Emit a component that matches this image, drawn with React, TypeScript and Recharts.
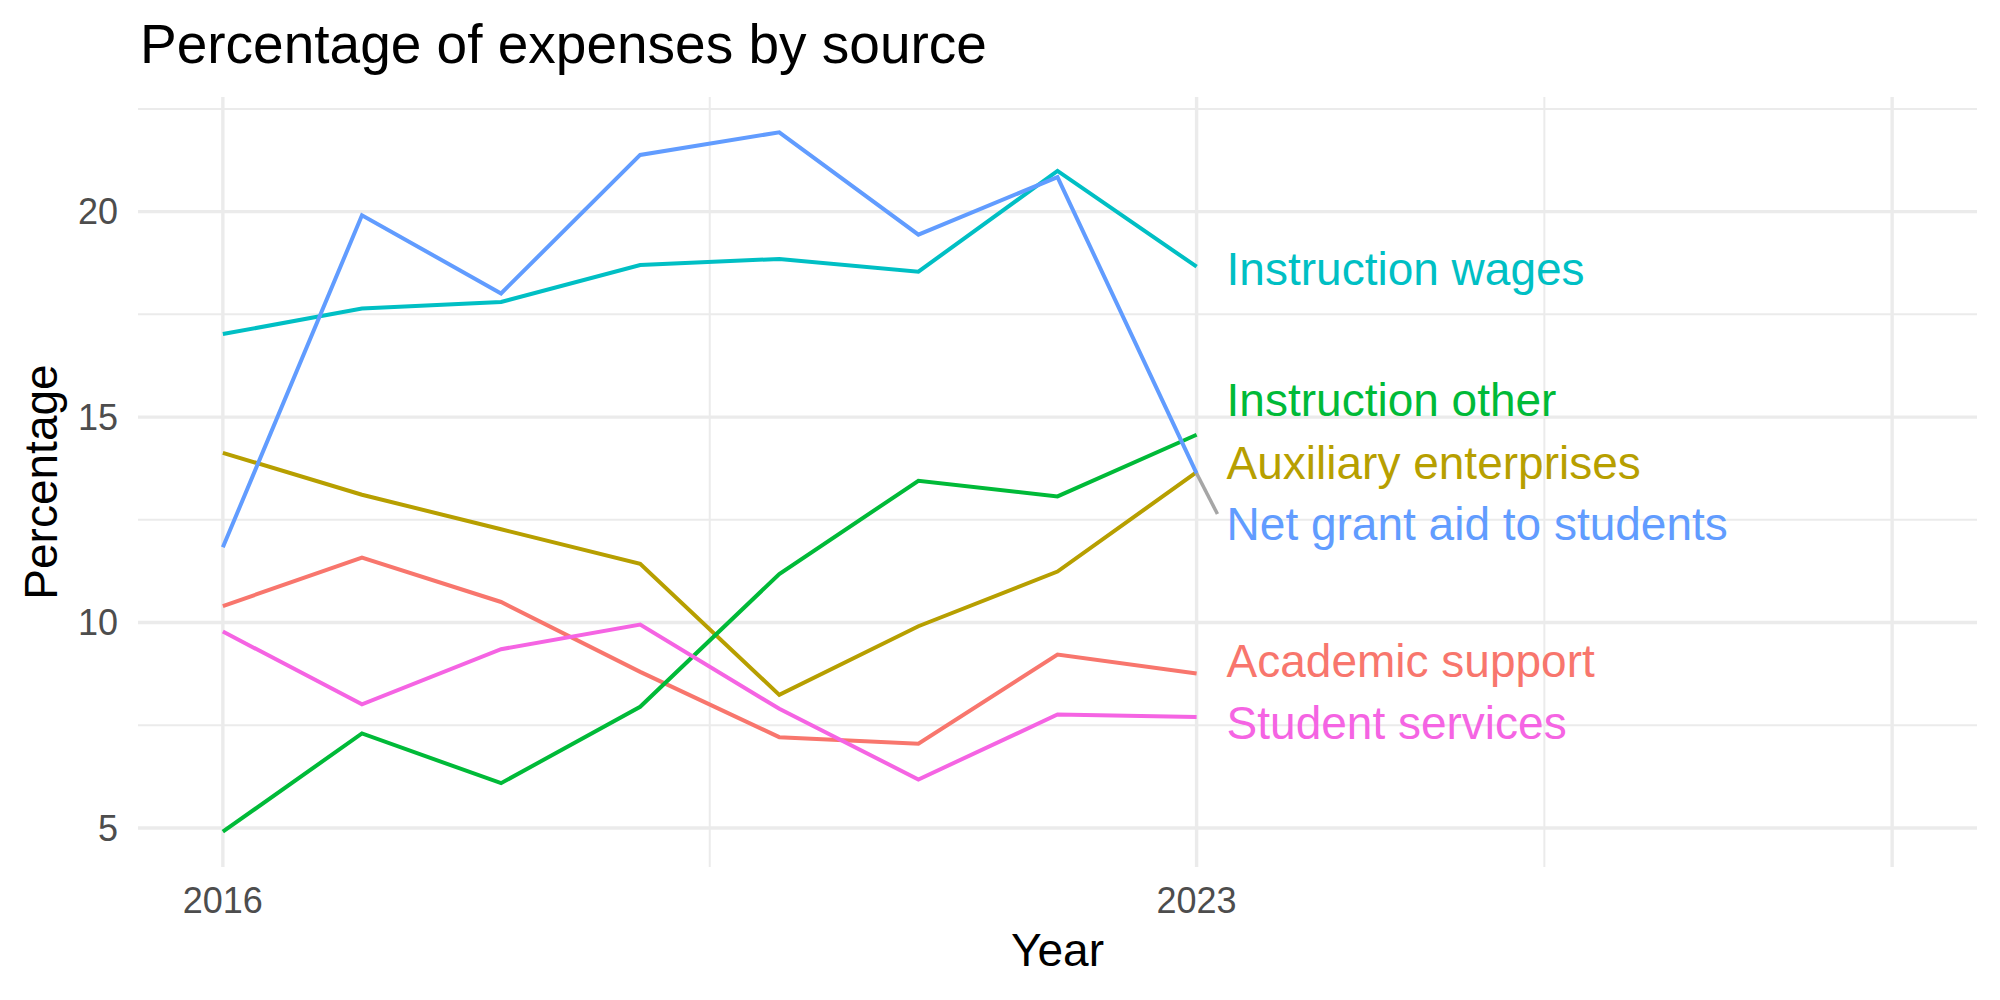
import React from 'react';
import { LineChart, Line, XAxis, YAxis, CartesianGrid, ReferenceDot, ReferenceLine, Label } from 'recharts';

const YEARS = [2016, 2017, 2018, 2019, 2020, 2021, 2022, 2023];

const ACADEMIC_SUPPORT = [10.4, 11.58, 10.5, 8.8, 7.21, 7.05, 9.22, 8.76];
const AUXILIARY_ENTERPRISES = [14.13, 13.11, 12.27, 11.43, 8.24, 9.91, 11.24, 13.66];
const INSTRUCTION_OTHER = [4.91, 7.3, 6.09, 7.95, 11.18, 13.45, 13.07, 14.57];
const INSTRUCTION_WAGES = [17.02, 17.64, 17.8, 18.7, 18.85, 18.54, 20.99, 18.66];
const NET_GRANT_AID = [11.83, 19.91, 18.01, 21.38, 21.93, 19.44, 20.84, 13.63];
const STUDENT_SERVICES = [9.78, 8.01, 9.35, 9.95, 7.9, 6.18, 7.76, 7.7];

const SOURCES = [
  'Academic support',
  'Auxiliary enterprises',
  'Instruction other',
  'Instruction wages',
  'Net grant aid to students',
  'Student services',
];
const SERIES_VALUES = [
  ACADEMIC_SUPPORT,
  AUXILIARY_ENTERPRISES,
  INSTRUCTION_OTHER,
  INSTRUCTION_WAGES,
  NET_GRANT_AID,
  STUDENT_SERVICES,
];
const COLORS = ['#F8766D', '#B79F00', '#00BA38', '#00BFC4', '#619CFF', '#F564E3'];

// repelled label heights (in percentage units), next to the 2023 end points
const LABEL_Y = [9.07, 13.88, 15.43, 18.6, 12.39, 7.55];

const X_TICKS = [2016, 2023];
const Y_TICKS = [5, 10, 15, 20];
const X_MAJOR = [2016, 2023, 2028];
const X_MINOR = [2019.5, 2025.5];
const Y_MAJOR = [5, 10, 15, 20];
const Y_MINOR = [7.5, 12.5, 17.5, 22.5];

const FONT = '"Liberation Sans", Arial, Helvetica, sans-serif';

const data = YEARS.map((year, i) => {
  const row: Record<string, number> = { year };
  SOURCES.forEach((s, j) => {
    row[s] = SERIES_VALUES[j][i];
  });
  return row;
});

const App: React.FC = () => {
  return (
    <div style={{ position: 'absolute', left: 0, top: 0, width: 2000, height: 1000, background: '#fff', fontFamily: FONT }}>
      <LineChart width={2000} height={1000} data={data} margin={{ top: 97, right: 23, bottom: 0, left: 0 }}>
        {/* minor grid */}
        <CartesianGrid stroke="#EBEBEB" strokeWidth={2} horizontalValues={Y_MINOR} verticalValues={X_MINOR} />
        {/* major grid */}
        <CartesianGrid stroke="#EBEBEB" strokeWidth={3.4} horizontalValues={Y_MAJOR} verticalValues={X_MAJOR} />
        <XAxis
          type="number"
          dataKey="year"
          domain={[2015.39, 2028.61]}
          ticks={X_TICKS}
          allowDataOverflow
          axisLine={false}
          tickLine={false}
          tickSize={0}
          tickMargin={20}
          height={133}
          tick={{ fill: '#4D4D4D', fontSize: 36, fontFamily: FONT }}
        >
          <Label
            content={({ viewBox }: any) => (
              <text
                x={viewBox.x + viewBox.width / 2}
                y={viewBox.y + 99}
                textAnchor="middle"
                fontSize={46}
                fontFamily={FONT}
                fill="#000"
              >
                Year
              </text>
            )}
          />
        </XAxis>
        <YAxis
          type="number"
          domain={[4.05, 22.79]}
          ticks={Y_TICKS}
          allowDataOverflow
          axisLine={false}
          tickLine={false}
          tickSize={0}
          tickMargin={20}
          width={138}
          tick={{ fill: '#4D4D4D', fontSize: 36, fontFamily: FONT }}
        >
          <Label
            content={({ viewBox }: any) => {
              const cx = viewBox.x + 41;
              const cy = viewBox.y + viewBox.height / 2;
              return (
                <text
                  x={cx}
                  y={cy}
                  dy="0.35em"
                  transform={`rotate(-90, ${cx}, ${cy})`}
                  textAnchor="middle"
                  fontSize={46}
                  fontFamily={FONT}
                  fill="#000"
                >
                  Percentage
                </text>
              );
            }}
          />
        </YAxis>
        {SOURCES.map((s, i) => (
          <Line
            key={s}
            type="linear"
            dataKey={s}
            stroke={COLORS[i]}
            strokeWidth={4}
            dot={false}
            activeDot={false}
            isAnimationActive={false}
          />
        ))}
        {/* connector from the net grant aid end point to its label */}
        <ReferenceLine
          segment={[
            { x: 2023, y: 13.63 },
            { x: 2023.15, y: 12.64 },
          ]}
          stroke="#A6A6A6"
          strokeWidth={3.5}
          ifOverflow="visible"
        />
        {SOURCES.map((s, i) => (
          <ReferenceDot
            key={`lab-${s}`}
            x={2023}
            y={LABEL_Y[i]}
            r={0}
            fill="none"
            stroke="none"
            ifOverflow="visible"
            label={({ viewBox }: any) => (
              <text
                x={viewBox.x + 30}
                y={viewBox.y}
                dy="0.35em"
                fontSize={46}
                fontFamily={FONT}
                fill={COLORS[i]}
              >
                {s}
              </text>
            )}
          />
        ))}
      </LineChart>
      <svg width={2000} height={100} style={{ position: 'absolute', left: 0, top: 0, pointerEvents: 'none' }}>
        <text x={140} y={63} fontSize={55} fontFamily={FONT} fill="#000">
          Percentage of expenses by source
        </text>
      </svg>
    </div>
  );
};

export default App;
